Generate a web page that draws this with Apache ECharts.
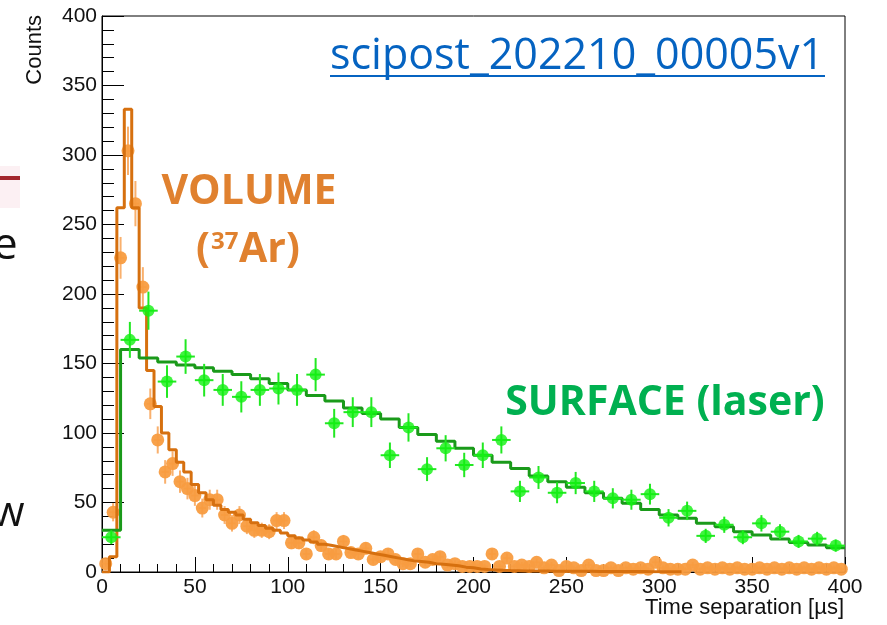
<!DOCTYPE html>
<html>
<head>
<meta charset="utf-8">
<script src="https://cdn.jsdelivr.net/npm/echarts@6/dist/echarts.min.js"></script>
<style>
html,body{margin:0;padding:0;background:#fff;}
#chart{width:887px;height:625px;}
</style>
</head>
<body>
<div id="chart"></div>
<script>
// ---------------- DATA ----------------
// Axis ranges / ticks
const xMin = 0, xMax = 400, xStep = 50;
const yMin = 0, yMax = 400, yStep = 50;

// VOLUME (37Ar) data histogram: 4-unit bins starting at 0 (bin centres 2, 6, ..., 398)
const volumeBinStart = 0, volumeBinWidth = 4;
const volumeCounts = [
  6, 43, 226, 303, 265, 205, 121, 95, 72, 78,
  65, 60, 55, 46, 52, 52, 41, 35, 41, 33,
  30, 30, 29, 37, 37, 21, 21, 13, 25, 19,
  13, 13, 22, 14, 13, 17, 9, 11, 13, 9,
  6, 6, 13, 7, 9, 11, 5, 6, 4, 4,
  4, 4, 13, 4, 10, 4, 5, 4, 7, 3,
  5, 1, 4, 3, 1, 5, 1, 1, 3, 1,
  3, 2, 3, 2, 7, 3, 2, 2, 2, 5,
  2, 3, 2, 3, 2, 3, 2, 2, 3, 2,
  3, 2, 3, 2, 3, 2, 3, 2, 3, 2
];
// VOLUME fit, drawn as a histogram with the same 4-unit bins (up to ~312)
const volumeFit = [
  0, 11, 262, 333, 262, 190, 145, 119, 100, 88,
  79, 72, 63, 57, 52, 48, 45, 43, 41, 38,
  35.5, 33.5, 31.5, 30, 28, 26, 24.5, 23, 21.5, 20,
  19, 18, 17, 16, 15, 14, 13, 12, 11, 10,
  9, 8, 7.5, 7, 6, 5.5, 5, 4.5, 3.5, 3,
  2.2, 1.8, 1.5, 1.2, 1, 0.9, 0.8, 0.75, 0.7, 0.65,
  0.6, 0.55, 0.5, 0.5, 0.45, 0.45, 0.4, 0.4, 0.35, 0.35,
  0.3, 0.3, 0.3, 0.25, 0.25, 0.25, 0.2, 0.2
];

// SURFACE (laser) data histogram: 10-unit bins (centres 5, 15, ..., 395)
const surfaceBinStart = 0, surfaceBinWidth = 10;
const surfaceCounts = [
  25, 167, 188, 137, 155, 138, 131, 126, 131, 132,
  131, 142, 107, 115, 115, 84, 104, 74, 89, 77,
  84, 95, 58, 68, 57, 64, 58, 53, 52, 56,
  39, 44, 26, 34, 25, 35, 29, 22, 24, 19
];
// SURFACE fit as a 10-unit histogram
const surfaceFit = [
  30, 160, 154, 151, 149, 147, 144.5, 142, 139, 135.6,
  131, 127, 123, 118, 114, 110, 104, 99, 94, 89,
  84, 79, 74.5, 69, 65, 61, 57, 53, 49.5, 45,
  41, 38.6, 35, 32.6, 29, 26.6, 23.7, 21.3, 19.4, 17.5
];

// Texts
const xTitle = 'Time separation [\u00b5s]';
const yTitle = 'Counts';
const linkText = 'scipost_202210_00005v1';

// ---------------- BUILD ----------------
function stepData(start, width, vals) {
  const d = vals.map((v, i) => [start + i * width, v]);
  d.push([start + vals.length * width, vals[vals.length - 1]]);
  return d;
}
function pointData(start, width, vals) {
  return vals.map((v, i) => [start + (i + 0.5) * width, v, width / 2, Math.sqrt(v)]);
}

const volPts = pointData(volumeBinStart, volumeBinWidth, volumeCounts);
const surfPts = pointData(surfaceBinStart, surfaceBinWidth, surfaceCounts);

function errRender(color, width) {
  return function (params, api) {
    const x = api.value(0), y = api.value(1), ex = api.value(2), ey = api.value(3);
    const l = api.coord([x - ex, y]), r = api.coord([x + ex, y]);
    const t = api.coord([x, y + ey]), b = api.coord([x, Math.max(0, y - ey)]);
    const st = { stroke: color, lineWidth: width };
    return {
      type: 'group',
      children: [
        { type: 'line', shape: { x1: l[0], y1: l[1], x2: r[0], y2: r[1] }, style: st },
        { type: 'line', shape: { x1: t[0], y1: t[1], x2: b[0], y2: b[1] }, style: st }
      ]
    };
  };
}

const orangeDot = '#f89c40';
const orangeLine = '#d6700f';
const greenDot = '#12f012';
const greenLine = '#1a9a1a';

const chart = echarts.init(document.getElementById('chart'), null, { renderer: 'canvas' });
const axisFont = 'Liberation Sans, Arial, sans-serif';

chart.setOption({
  animation: false,
  backgroundColor: '#ffffff',
  grid: { left: 102, top: 16, width: 743, height: 556, show: true, borderColor: '#000', borderWidth: 1, containLabel: false },
  xAxis: {
    type: 'value', min: xMin, max: xMax, interval: xStep,
    axisLine: { show: true, lineStyle: { color: '#000', width: 1 } },
    axisTick: { show: true, inside: true, length: 15, lineStyle: { color: '#000' } },
    minorTick: { show: true, splitNumber: 5, length: 8, lineStyle: { color: '#000' } },
    splitLine: { show: false },
    axisLabel: { fontSize: 21, color: '#111', fontFamily: axisFont, margin: 5 }
  },
  yAxis: {
    type: 'value', min: yMin, max: yMax, interval: yStep,
    axisLine: { show: true, lineStyle: { color: '#000', width: 1 } },
    axisTick: { show: true, inside: true, length: 22, lineStyle: { color: '#000' } },
    minorTick: { show: true, splitNumber: 5, length: 12, lineStyle: { color: '#000' } },
    splitLine: { show: false },
    axisLabel: { fontSize: 21, color: '#111', fontFamily: axisFont, margin: 5 }
  },
  series: [
    {
      type: 'custom', name: 'volErr', renderItem: errRender('rgba(247,150,60,0.75)', 2),
      data: volPts, z: 2, silent: true, clip: true
    },
    {
      type: 'scatter', name: 'VOLUME', data: volPts.map(p => [p[0], p[1]]),
      symbol: 'circle', symbolSize: 13, itemStyle: { color: orangeDot, opacity: 0.95 }, z: 3
    },
    {
      type: 'line', name: 'VOLUME fit', data: stepData(volumeBinStart, volumeBinWidth, volumeFit),
      step: 'end', showSymbol: false, symbol: 'none',
      lineStyle: { color: orangeLine, width: 3 }, z: 4
    },
    {
      type: 'line', name: 'SURFACE fit', data: stepData(surfaceBinStart, surfaceBinWidth, surfaceFit),
      step: 'end', showSymbol: false, symbol: 'none',
      lineStyle: { color: greenLine, width: 3 }, z: 5
    },
    {
      type: 'custom', name: 'surfErr', renderItem: errRender('#22e822', 2),
      data: surfPts, z: 6, silent: true, clip: true
    },
    {
      type: 'scatter', name: 'SURFACE', data: surfPts.map(p => [p[0], p[1]]),
      symbol: 'circle', symbolSize: 12, itemStyle: { color: greenDot }, z: 7
    }
  ],
  graphic: [
    // slide residue on the left edge
    { type: 'rect', shape: { x: 0, y: 166, width: 20, height: 42 }, style: { fill: '#fcf0f3' }, z: 0 },
    { type: 'rect', shape: { x: 0, y: 176, width: 20, height: 4 }, style: { fill: '#a3272d' }, z: 1 },
    { type: 'text', x: -7, y: 246, style: { text: 'e', font: '44px "Open Sans"', fill: '#111', textVerticalAlign: 'middle' } },
    { type: 'text', x: -8, y: 514, style: { text: 'w', font: '42px "Open Sans"', fill: '#111', textVerticalAlign: 'middle' } },
    // axis titles
    { type: 'text', x: 35, y: 15, rotation: Math.PI / 2,
      style: { text: yTitle, font: '22px "Liberation Sans"', fill: '#111', textAlign: 'right', textVerticalAlign: 'middle' } },
    { type: 'text', x: 844, y: 608,
      style: { text: xTitle, font: '22px "Liberation Sans"', fill: '#111', textAlign: 'right', textVerticalAlign: 'middle' } },
    // annotations
    { type: 'text', x: 577, y: 57, z: 20,
      style: { text: linkText, font: '43px "Open Sans"', fill: '#0563c1', textAlign: 'center', textVerticalAlign: 'middle' } },
    { type: 'rect', shape: { x: 330, y: 75, width: 495, height: 2 }, style: { fill: '#0563c1' }, z: 20 },
    { type: 'text', x: 249, y: 192, z: 20,
      style: { text: 'VOLUME', font: 'bold 41px "Open Sans"', fill: '#e0812f', textAlign: 'center', textVerticalAlign: 'middle' } },
    { type: 'text', x: 196, y: 250, z: 20,
      style: { text: '(', font: 'bold 41px "Open Sans"', fill: '#e0812f', textAlign: 'left', textVerticalAlign: 'middle' } },
    { type: 'text', x: 211, y: 242, z: 20,
      style: { text: '37', font: 'bold 24px "Open Sans"', fill: '#e0812f', textAlign: 'left', textVerticalAlign: 'middle' } },
    { type: 'text', x: 239, y: 250, z: 20,
      style: { text: 'Ar)', font: 'bold 41px "Open Sans"', fill: '#e0812f', textAlign: 'left', textVerticalAlign: 'middle' } },
    { type: 'text', x: 665, y: 403, z: 20,
      style: { text: 'SURFACE (laser)', font: 'bold 41px "Open Sans"', fill: '#00b050', textAlign: 'center', textVerticalAlign: 'middle' } }
  ]
});
</script>
</body>
</html>
